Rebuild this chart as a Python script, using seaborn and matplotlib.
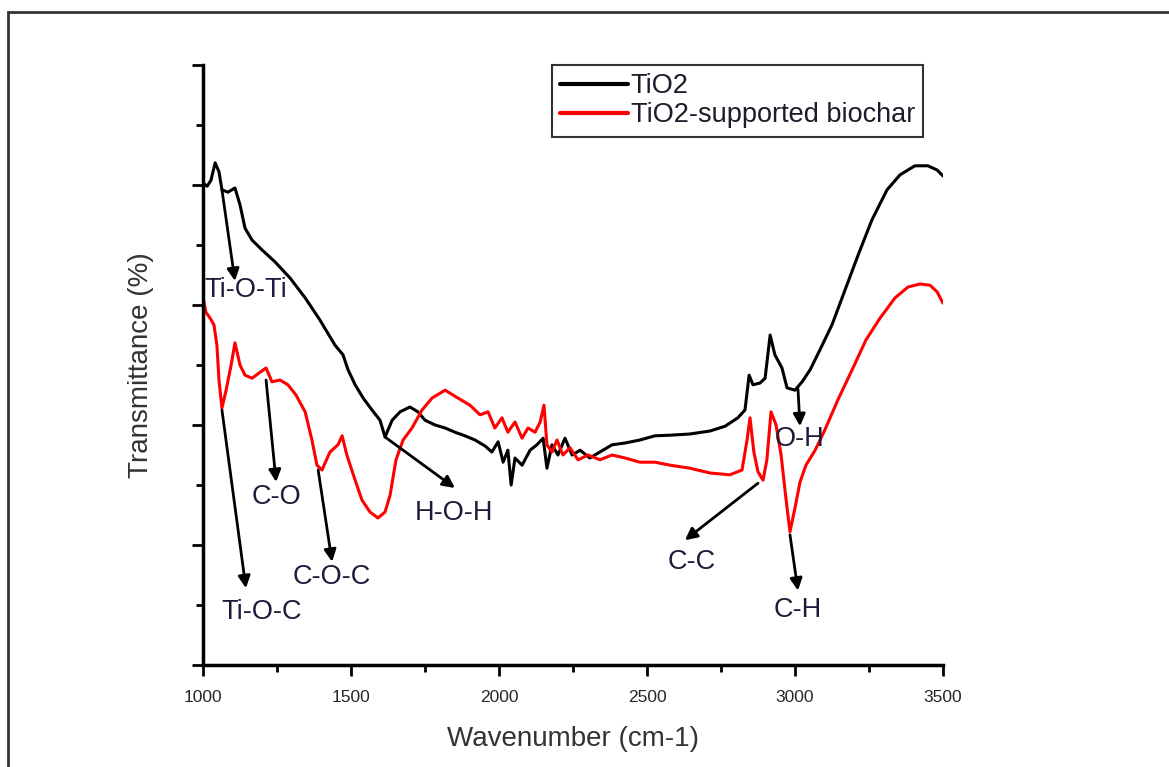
import matplotlib
matplotlib.use("Agg")
import matplotlib.pyplot as plt
import numpy as np
import pandas as pd
import seaborn as sns
from matplotlib.patches import Rectangle
from matplotlib.ticker import MultipleLocator

# FTIR spectra: wavenumber (cm-1) vs. transmittance (%)
tio2_wn = [1000, 1014, 1027, 1041, 1054, 1064, 1084, 1108, 1125, 1142, 1166, 1199, 1243,
           1294, 1345, 1395, 1446, 1473, 1490, 1514, 1541, 1571, 1598, 1615, 1639, 1666,
           1699, 1726, 1750, 1784, 1818, 1851, 1885, 1919, 1953, 1976, 1997, 2014, 2030,
           2041, 2054, 2078, 2105, 2128, 2149, 2162, 2179, 2199, 2223, 2247, 2274, 2307,
           2341, 2382, 2426, 2476, 2527, 2578, 2645, 2713, 2764, 2807, 2831, 2845, 2858,
           2882, 2899, 2916, 2932, 2956, 2973, 3000, 3024, 3051, 3084, 3125, 3169, 3213,
           3260, 3311, 3355, 3405, 3449, 3480, 3500]
tio2_t = [80.3, 79.8, 80.8, 83.7, 82.2, 79.2, 78.8, 79.5, 76.7, 72.8, 70.8, 69.2, 67.2,
          64.5, 61.2, 57.5, 53.3, 51.7, 49.2, 46.7, 44.5, 42.5, 40.8, 38.0, 40.8, 42.2,
          43.0, 42.2, 40.8, 40.0, 39.5, 38.8, 38.2, 37.5, 36.5, 35.5, 37.2, 33.8, 35.8,
          30.0, 34.5, 33.3, 35.8, 36.7, 37.8, 32.8, 36.7, 35.0, 37.8, 35.0, 35.8, 34.5,
          35.5, 36.7, 37.0, 37.5, 38.2, 38.3, 38.5, 39.0, 39.8, 41.2, 42.5, 48.3, 46.7,
          47.0, 47.8, 55.0, 51.7, 49.5, 46.2, 45.8, 47.2, 49.2, 52.5, 56.7, 62.5, 68.3,
          74.2, 79.2, 81.7, 83.2, 83.2, 82.5, 81.5]

bio_wn = [1000, 1010, 1024, 1037, 1047, 1054, 1064, 1078, 1095, 1108, 1125, 1142, 1166,
          1193, 1213, 1233, 1260, 1287, 1314, 1345, 1368, 1385, 1402, 1429, 1456, 1470,
          1486, 1514, 1537, 1564, 1591, 1615, 1632, 1652, 1676, 1706, 1740, 1774, 1818,
          1861, 1902, 1936, 1963, 1986, 2010, 2030, 2054, 2078, 2098, 2122, 2139, 2152,
          2162, 2179, 2196, 2216, 2240, 2267, 2301, 2341, 2382, 2426, 2476, 2527, 2578,
          2645, 2713, 2780, 2821, 2838, 2848, 2861, 2875, 2892, 2905, 2919, 2936, 2953,
          2970, 2983, 3000, 3017, 3037, 3068, 3101, 3145, 3193, 3240, 3287, 3338, 3382,
          3422, 3456, 3480, 3500]
bio_t = [61.2, 58.8, 57.8, 56.7, 53.3, 47.5, 42.8, 45.8, 50.0, 53.7, 50.0, 48.3, 47.8,
         48.8, 49.5, 47.2, 47.5, 46.7, 45.0, 42.2, 37.5, 33.3, 32.5, 35.5, 36.7, 38.2,
         35.0, 30.8, 27.5, 25.5, 24.5, 25.5, 28.3, 34.2, 37.5, 39.5, 42.5, 44.5, 45.8,
         44.5, 43.3, 41.7, 42.2, 39.5, 41.2, 38.8, 40.5, 37.8, 39.5, 38.8, 40.5, 43.3,
         36.7, 35.5, 37.5, 35.0, 36.2, 34.2, 35.0, 34.2, 35.0, 34.5, 33.8, 33.8, 33.3,
         32.8, 32.0, 31.7, 32.5, 37.5, 41.2, 35.5, 32.2, 30.8, 34.2, 42.2, 40.0, 35.0,
         27.5, 22.2, 26.2, 30.5, 33.3, 35.8, 39.2, 44.2, 49.2, 54.2, 57.8, 61.2, 63.0,
         63.5, 63.3, 62.2, 60.3]

series_names = ["TiO2", "TiO2-supported biochar"]
series_colors = ["#000000", "#ff0000"]

# Band assignments: label, arrow start (wn, T), arrow tip (wn, T), label position (wn, T)
band_labels = ["Ti-O-Ti", "Ti-O-C", "C-O", "C-O-C", "H-O-H", "C-C", "O-H", "C-H"]
band_from = [(1064, 79.2), (1064, 42.5), (1213, 47.5), (1389, 32.5), (1615, 38.0),
             (2875, 30.3), (3010, 46.0), (2983, 21.7)]
band_to = [(1108, 64.0), (1145, 12.8), (1247, 30.5), (1436, 17.2), (1851, 29.5),
           (2628, 20.8), (3017, 39.8), (3010, 12.4)]
band_text = [(1005, 62.5), (1199, 8.8), (1247, 28.0), (1436, 14.7), (1848, 25.3),
             (2652, 17.2), (3017, 37.6), (3010, 9.2)]

df = pd.concat([
    pd.DataFrame({"wn": tio2_wn, "T": tio2_t, "sample": series_names[0]}),
    pd.DataFrame({"wn": bio_wn, "T": bio_t, "sample": series_names[1]}),
])

sns.set_style("white")
plt.rcParams["font.family"] = ["Liberation Sans", "DejaVu Sans"]

fig = plt.figure(figsize=(11.69, 7.67), dpi=100)
ax = fig.add_axes([203 / 1169, 102 / 767, 740 / 1169, 600 / 767])

sns.lineplot(data=df, x="wn", y="T", hue="sample", palette=series_colors,
             hue_order=series_names, sort=False, estimator=None, lw=2.2, ax=ax)

ax.set_xlim(1000, 3500)
ax.set_ylim(0, 100)
ax.xaxis.set_major_locator(MultipleLocator(500))
ax.xaxis.set_minor_locator(MultipleLocator(250))
ax.yaxis.set_major_locator(MultipleLocator(20))
ax.yaxis.set_minor_locator(MultipleLocator(10))
ax.set_yticklabels([])
ax.tick_params(axis="both", which="major", direction="out", length=8, width=2,
               color="black", labelsize=12.5, labelcolor="#262626", left=True, bottom=True)
ax.tick_params(axis="both", which="minor", direction="out", length=5, width=2,
               color="black", left=True, bottom=True)
ax.tick_params(axis="x", pad=10)

for side in ("top", "right"):
    ax.spines[side].set_visible(False)
for side in ("left", "bottom"):
    ax.spines[side].set_color("black")
    ax.spines[side].set_linewidth(2.5)

ax.set_xlabel("Wavenumber (cm-1)", fontsize=20, color="#333333", labelpad=15)
ax.set_ylabel("Transmittance (%)", fontsize=20, color="#333333", labelpad=24)

for lab, p0, p1, pt in zip(band_labels, band_from, band_to, band_text):
    ax.annotate("", xy=p1, xytext=p0,
                arrowprops=dict(arrowstyle="-|>", color="black", lw=2,
                                mutation_scale=18, shrinkA=0, shrinkB=0))
    ax.text(pt[0], pt[1], lab, fontsize=19.5, color="#1c1c3a",
            ha="left" if lab == "Ti-O-Ti" else "center", va="center")

leg = ax.legend(loc="upper right", bbox_to_anchor=(0.973, 1.0), borderaxespad=0,
                fontsize=19.5, frameon=True, fancybox=False, handlelength=2.5,
                handletextpad=0.1, labelspacing=0.12, borderpad=0.3)
leg.get_frame().set_edgecolor("black")
leg.get_frame().set_linewidth(1.5)
for t in leg.get_texts():
    t.set_color("#1c1c2a")
for h in leg.get_lines():
    h.set_linewidth(3)

# outer frame around the figure
fig.patches.append(Rectangle((8 / 1169, -0.05), 1.1, 1 - 12 / 767 + 0.05,
                             transform=fig.transFigure, fill=False,
                             edgecolor="#333333", linewidth=2))

fig.savefig("out.png", dpi=100)
